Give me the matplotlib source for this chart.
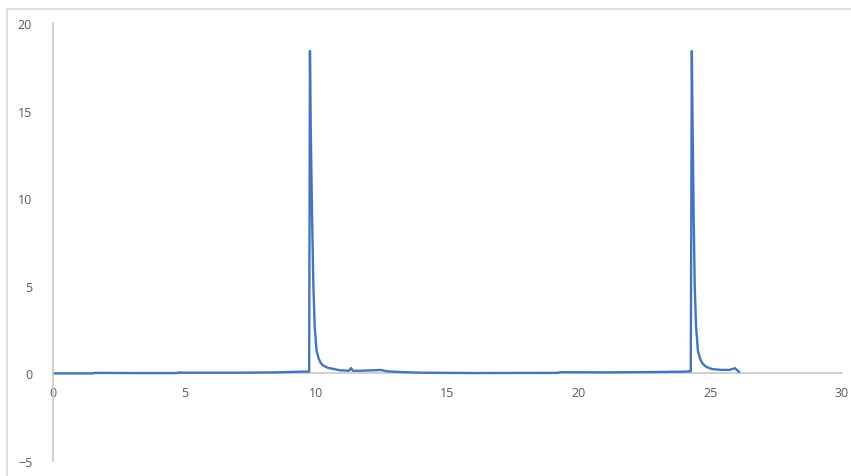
import matplotlib.pyplot as plt
from matplotlib.lines import Line2D

# Datos del cromatograma
tiempo = [0.0, 1.5, 1.6, 3.0, 4.7, 4.8, 5.0, 7.0, 8.5, 9.0, 9.5, 9.74,
          9.77, 9.80, 9.85, 9.90, 9.95, 10.02, 10.1, 10.18, 10.27, 10.45,
          10.65, 10.9, 11.25, 11.33, 11.4, 11.7, 12.0, 12.3, 12.45, 12.7,
          13.2, 14.0, 16.0, 19.2, 19.3, 21.0, 23.0, 24.0, 24.25,
          24.29, 24.32, 24.36, 24.40, 24.45, 24.52, 24.6, 24.68, 24.79,
          24.95, 25.1, 25.4, 25.7, 25.85, 25.93, 26.0, 26.08]
senal = [0.0, 0.0, 0.03, 0.02, 0.02, 0.05, 0.04, 0.04, 0.06, 0.08, 0.1, 0.1,
         18.4, 14.0, 9.0, 5.0, 2.7, 1.3, 0.85, 0.6, 0.45, 0.32,
         0.26, 0.18, 0.15, 0.3, 0.15, 0.15, 0.17, 0.18, 0.2, 0.12,
         0.08, 0.04, 0.02, 0.03, 0.07, 0.06, 0.08, 0.1, 0.12,
         18.4, 14.0, 9.0, 5.0, 2.7, 1.3, 0.85, 0.6, 0.42,
         0.3, 0.24, 0.2, 0.2, 0.25, 0.3, 0.2, 0.1]

xticks = [0, 5, 10, 15, 20, 25, 30]
yticks = [-5, 0, 5, 10, 15, 20]

W, H = 851, 477
fig = plt.figure(figsize=(W / 100, H / 100), dpi=100)
ax = fig.add_axes([53 / W, 1 - 462 / H, (842 - 53) / W, (462 - 24) / H])

ax.plot(tiempo, senal, color='#4472C4', lw=1.7, solid_joinstyle='round')

ax.set_xlim(0, 30)
ax.set_ylim(-5, 20)
ax.set_xticks(xticks)
ax.set_yticks(yticks)

gris = '#C8C8C8'
ax.spines['top'].set_visible(False)
ax.spines['right'].set_visible(False)
ax.spines['bottom'].set_position(('data', 0))
ax.spines['bottom'].set_color(gris)
ax.spines['left'].set_color(gris)
ax.spines['bottom'].set_linewidth(1.2)
ax.spines['left'].set_linewidth(1.2)
ax.spines['bottom'].set_zorder(1)

ax.tick_params(axis='both', length=0, labelsize=9, labelcolor='#595959')
ax.tick_params(axis='x', pad=9)
ax.tick_params(axis='y', pad=15)
for lab in ax.get_xticklabels() + ax.get_yticklabels():
    lab.set_fontfamily('Open Sans')

# Marco del área del gráfico (solo arriba e izquierda visibles)
fig.add_artist(Line2D([7 / W, 1], [1 - 10 / H, 1 - 10 / H], color='#D9D9D9', lw=1.2))
fig.add_artist(Line2D([7 / W, 7 / W], [0, 1 - 10 / H], color='#D9D9D9', lw=1.2))

fig.savefig('out.png', dpi=100, facecolor='white')
